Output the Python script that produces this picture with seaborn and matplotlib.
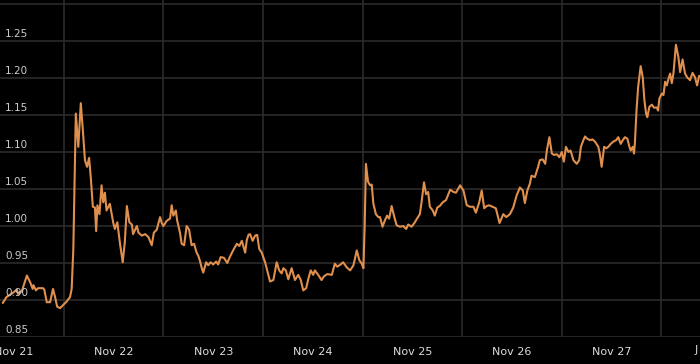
import matplotlib
matplotlib.use("Agg")
import matplotlib.pyplot as plt
import matplotlib.transforms as mtransforms
import seaborn as sns
import pandas as pd

# hours since Nov 21 00:00
hours = [
    -2.7, -1.8, -0.2, 0.7, 1.0, 1.9, 3.1, 3.9, 4.5, 4.7, 5.3, 5.8, 7.0, 7.3, 7.9, 8.7,
    9.4, 9.9, 10.4, 11.1, 11.8, 12.7, 13.5, 13.9, 14.3, 14.6, 14.9, 15.5, 16.1, 16.6,
    17.1, 17.6, 18.1, 18.5, 19.0, 19.5, 19.8, 20.1, 20.6, 21.1, 21.5, 21.9, 22.3, 23.1,
    23.9, 24.3, 24.9, 25.5, 26.2, 26.7, 27.2, 27.8, 28.4, 28.7, 29.6, 30.0, 30.8, 31.6,
    32.4, 33.2, 33.7, 34.4, 35.2, 35.6, 36.0, 36.8, 37.6, 38.0, 38.4, 39.0, 39.3, 40.0,
    40.4, 41.0, 41.6, 42.2, 42.8, 43.4, 44.0, 44.4, 44.8, 45.2, 45.6, 46.3, 46.8, 47.4,
    48.0, 48.7, 49.2, 49.8, 50.6, 51.4, 52.0, 52.8, 53.7, 54.3, 54.9, 55.7, 56.1, 56.5,
    56.9, 57.5, 58.1, 58.6, 59.1, 59.7, 60.5, 61.0, 61.7, 62.5, 63.3, 63.9, 64.5, 64.9,
    65.5, 66.1, 66.9, 67.7, 68.5, 69.1, 69.7, 70.4, 70.9, 71.5, 72.1, 72.5, 73.3, 74.1,
    74.7, 75.5, 76.6, 77.3, 77.9, 78.7, 79.3, 80.2, 81.0, 81.8, 82.6, 83.2, 83.8, 84.2,
    84.5, 84.8, 85.3, 85.8, 86.2, 86.6, 87.2, 87.8, 88.2, 88.8, 89.4, 89.9, 90.4, 91.0,
    91.6, 92.2, 93.0, 93.8, 94.5, 95.0, 95.8, 96.6, 97.0, 97.8, 98.2, 98.8, 99.3, 99.8,
    100.2, 100.9, 101.4, 102.0, 102.6, 103.3, 104.1, 105.1, 105.9, 106.5, 107.5, 108.3,
    109.1, 109.9, 110.7, 111.3, 112.1, 112.7, 113.3, 113.9, 114.5, 115.3, 116.1, 117.0,
    117.9, 118.6, 119.5, 120.3, 121.1, 121.9, 122.6, 123.1, 123.7, 124.3, 124.7, 125.5,
    126.3, 126.7, 127.4, 128.0, 128.4, 129.0, 129.6, 130.1, 130.8, 131.4, 132.0, 132.5,
    133.0, 133.6, 134.1, 134.8, 135.6, 136.2, 136.6, 137.2, 137.6, 138.1, 138.8, 139.4,
    140.0, 140.8, 141.2, 141.6, 142.2, 142.7, 143.2, 143.8, 144.4, 145.1, 145.6, 146.2,
    146.7, 147.2, 147.8, 148.3, 148.6, 149.1, 149.4, 149.6, 150.0, 150.4, 151.0, 151.5,
    151.9, 152.3, 152.6, 153.1, 153.7, 154.2, 154.9, 155.2, 155.5, 156.1, 156.5, 156.9,
    157.3, 157.7, 158.1, 158.5, 158.9, 159.5, 160.1, 160.5, 161.1, 161.7, 162.2, 162.9,
    163.5, 164.1, 164.6, 165.1,
]
values = [
    0.896, 0.904, 0.910, 0.914, 0.908, 0.912, 0.933, 0.924, 0.915, 0.920, 0.913, 0.916, 0.916, 0.914, 0.897, 0.897,
    0.915, 0.904, 0.891, 0.889, 0.893, 0.898, 0.904, 0.915, 0.969, 1.060, 1.152, 1.107, 1.166, 1.129,
    1.089, 1.080, 1.092, 1.066, 1.026, 1.025, 0.993, 1.028, 1.016, 1.055, 1.032, 1.045, 1.021, 1.030,
    1.005, 0.996, 1.005, 0.978, 0.951, 0.978, 1.027, 1.005, 1.002, 0.989, 1.000, 0.991, 0.987, 0.989,
    0.985, 0.974, 0.991, 0.995, 1.012, 1.004, 1.000, 1.007, 1.010, 1.028, 1.014, 1.021, 1.008, 0.991,
    0.976, 0.974, 1.000, 0.995, 0.974, 0.976, 0.964, 0.960, 0.953, 0.944, 0.937, 0.951, 0.947, 0.951,
    0.948, 0.952, 0.948, 0.958, 0.957, 0.950, 0.958, 0.967, 0.976, 0.973, 0.980, 0.964, 0.981, 0.988,
    0.989, 0.980, 0.987, 0.988, 0.969, 0.964, 0.951, 0.940, 0.925, 0.927, 0.951, 0.940, 0.936, 0.943,
    0.940, 0.928, 0.943, 0.927, 0.934, 0.927, 0.913, 0.916, 0.928, 0.940, 0.934, 0.940, 0.934, 0.927,
    0.932, 0.935, 0.934, 0.949, 0.945, 0.948, 0.951, 0.944, 0.940, 0.947, 0.967, 0.954, 0.949, 0.943,
    1.000, 1.084, 1.060, 1.055, 1.056, 1.030, 1.016, 1.012, 1.012, 0.999, 1.008, 1.014, 1.010, 1.027,
    1.013, 1.001, 0.999, 1.000, 0.996, 1.002, 0.999, 1.005, 1.009, 1.016, 1.032, 1.059, 1.043, 1.046,
    1.026, 1.021, 1.014, 1.025, 1.027, 1.032, 1.035, 1.049, 1.046, 1.045, 1.055, 1.048,
    1.028, 1.026, 1.026, 1.018, 1.032, 1.048, 1.024, 1.027, 1.028, 1.026, 1.024, 1.004,
    1.016, 1.012, 1.016, 1.025, 1.041, 1.052, 1.048, 1.031, 1.048, 1.057, 1.068, 1.066,
    1.080, 1.089, 1.090, 1.084, 1.102, 1.120, 1.098, 1.096, 1.097, 1.093, 1.100, 1.087,
    1.107, 1.100, 1.102, 1.089, 1.084, 1.089, 1.107, 1.116, 1.121, 1.118, 1.116, 1.117,
    1.114, 1.107, 1.096, 1.080, 1.107, 1.105, 1.107, 1.111, 1.114, 1.116, 1.120, 1.111,
    1.116, 1.120, 1.118, 1.107, 1.102, 1.107, 1.098, 1.111, 1.156, 1.188, 1.216, 1.201,
    1.170, 1.152, 1.147, 1.161, 1.164, 1.160, 1.160, 1.156, 1.172, 1.179, 1.177, 1.195,
    1.190, 1.199, 1.206, 1.193, 1.206, 1.245, 1.228, 1.208, 1.225, 1.206, 1.201, 1.197,
    1.207, 1.201, 1.190, 1.203,
]

x_tick_hours = [0, 24, 48, 72, 96, 120, 144]
x_tick_labels = ["Nov 21", "Nov 22", "Nov 23", "Nov 24", "Nov 25", "Nov 26", "Nov 27"]
x_grid_hours = [12, 36, 60, 84, 108, 132, 156]
y_ticks = [0.85, 0.90, 0.95, 1.00, 1.05, 1.10, 1.15, 1.20, 1.25, 1.30]
y_tick_labels = ["0.85", "0.90", "0.95", "1.00", "1.05", "1.10", "1.15", "1.20", "1.25", ""]
clipped_label = "J"

df = pd.DataFrame({"hour": hours, "value": values})

sns.set_style("dark")
plt.rcParams["font.family"] = ["DejaVu Sans"]

fig = plt.figure(figsize=(7.0, 3.64), dpi=100, facecolor="black")
ax = fig.add_axes([0.0, 27 / 364, 1.0, 337 / 364])
ax.set_facecolor("black")

grid_color = "#2b2b2b"
for g in x_grid_hours:
    ax.axvline(g, color=grid_color, lw=1.2, zorder=0)
for yv in y_ticks:
    ax.axhline(yv, color=grid_color, lw=1.2, zorder=0)

sns.lineplot(data=df, x="hour", y="value", ax=ax, color="#e0904e", lw=1.5, zorder=3)

ax.set_xlim(-3.37, 165.3)
ax.set_ylim(0.85, 1.3054)
ax.set_xlabel("")
ax.set_ylabel("")
for s in ax.spines.values():
    s.set_visible(False)
ax.grid(False)

ax.set_xticks(x_tick_hours)
ax.set_xticklabels(x_tick_labels)
ax.tick_params(axis="x", length=0, pad=7, labelsize=8, labelcolor="#dddddd")
ax.set_yticks([])

trans = mtransforms.blended_transform_factory(ax.transAxes, ax.transData)
offset = mtransforms.offset_copy(trans, fig=fig, x=0, y=2, units="dots")
for yv, lab in zip(y_ticks, y_tick_labels):
    if lab:
        ax.text(0.007, yv, lab, transform=offset, ha="left", va="bottom",
                fontsize=7.5, color="#cccccc", zorder=4)

fig.text(695 / 700, 1 - 350 / 364, clipped_label, ha="left", va="center",
         fontsize=8, color="#dddddd")

fig.savefig("out.png", dpi=100, facecolor="black")
